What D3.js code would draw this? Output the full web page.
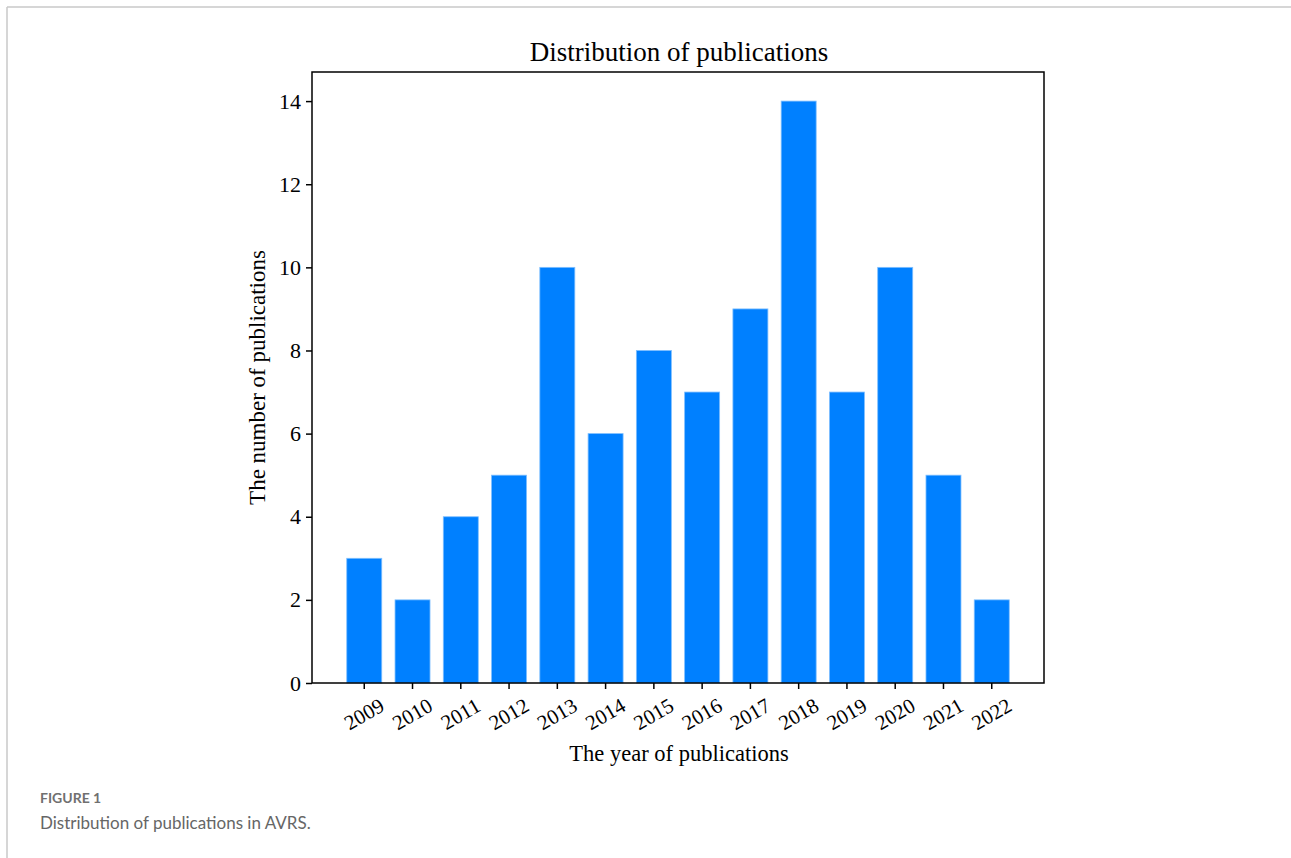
<!DOCTYPE html>
<html><head><meta charset="utf-8">
<script src="https://cdn.jsdelivr.net/npm/d3@7"></script>
<style>body{margin:0;background:#fff;} svg{display:block;}</style>
</head><body>
<svg id="c" width="1291" height="858"></svg>
<script>
const years = ["2009","2010","2011","2012","2013","2014","2015","2016","2017","2018","2019","2020","2021","2022"];
const counts = [3,2,4,5,10,6,8,7,9,14,7,10,5,2];
const yTicks = [0,2,4,6,8,10,12,14];
const title = "Distribution of publications";
const xLabel = "The year of publications";
const yLabel = "The number of publications";
const figLabel = "FIGURE 1";
const caption = "Distribution of publications in AVRS.";

const svg = d3.select("#c");
const L = 312, R = 1044, T = 72, B = 683;
const serif = "'Liberation Serif','Times New Roman',serif";

// page frame lines
svg.append("line").attr("x1",7).attr("x2",1291).attr("y1",7).attr("y2",7).attr("stroke","#c8c8c8").attr("stroke-width",1.5);
svg.append("line").attr("x1",7).attr("x2",7).attr("y1",7).attr("y2",858).attr("stroke","#c8c8c8").attr("stroke-width",1.5);

const x = d3.scaleBand().domain(years).range([L,R]).paddingInner(0.275).paddingOuter(0.72);
const y = d3.scaleLinear().domain([0,14.7]).range([B,T]);

svg.append("g").selectAll("rect").data(counts).join("rect")
  .attr("x",(d,i)=>x(years[i]))
  .attr("width",x.bandwidth())
  .attr("y",d=>y(d))
  .attr("height",d=>B-y(d))
  .attr("fill","#0080ff")
  .attr("stroke","#7fbfff").attr("stroke-width",0.8);

// frame
svg.append("rect").attr("x",L).attr("y",T).attr("width",R-L).attr("height",B-T)
  .attr("fill","none").attr("stroke","#000").attr("stroke-width",1.5);

// y axis
const ya = svg.append("g").attr("transform",`translate(${L},0)`)
  .call(d3.axisLeft(y).tickValues(yTicks).tickSize(6).tickPadding(5));
ya.select(".domain").remove();
ya.selectAll("line").attr("stroke","#000").attr("stroke-width",1.5);
ya.selectAll("text").attr("font-family",serif).attr("font-size",22).attr("fill","#000");

// x axis
const xa = svg.append("g").attr("transform",`translate(0,${B})`)
  .call(d3.axisBottom(x).tickSize(6).tickFormat(""));
xa.select(".domain").remove();
xa.selectAll("line").attr("stroke","#000").attr("stroke-width",1.5);
svg.append("g").selectAll("text").data(years).join("text")
  .attr("transform",d=>`translate(${x(d)+x.bandwidth()/2+1},${B+33}) rotate(-30)`)
  .attr("text-anchor","middle").attr("dominant-baseline","middle")
  .attr("font-family",serif).attr("font-size",21).attr("fill","#000").text(d=>d);

// titles
svg.append("text").attr("x",(L+R)/2+1).attr("y",61).attr("text-anchor","middle")
  .attr("font-family",serif).attr("font-size",27).attr("fill","#000").text(title);
svg.append("text").attr("x",(L+R)/2+1).attr("y",761).attr("text-anchor","middle")
  .attr("font-family",serif).attr("font-size",22.5).attr("fill","#000").text(xLabel);
svg.append("text").attr("transform",`translate(265,${(T+B)/2}) rotate(-90)`).attr("text-anchor","middle")
  .attr("font-family",serif).attr("font-size",23).attr("fill","#000").text(yLabel);

// caption
svg.append("text").attr("x",40).attr("y",803).attr("font-family","Lato,'Open Sans',sans-serif")
  .attr("font-size",14).attr("font-weight",700).attr("fill","#707070").text(figLabel);
svg.append("text").attr("x",40).attr("y",829).attr("font-family","Lato,'Open Sans',sans-serif")
  .attr("font-size",17).attr("fill","#666").text(caption);
</script>
</body></html>
